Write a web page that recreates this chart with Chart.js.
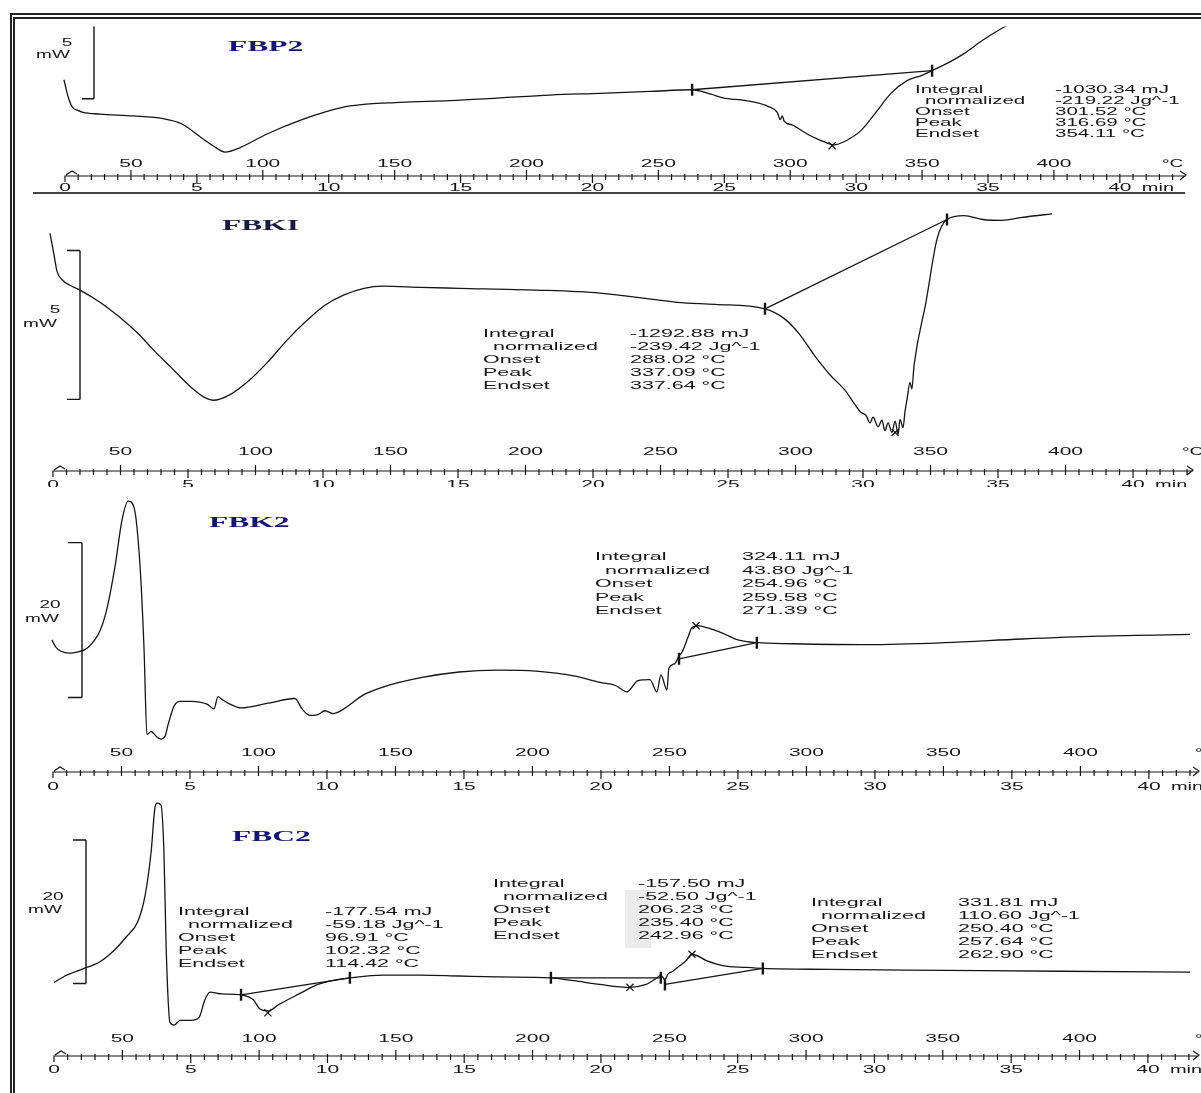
<!DOCTYPE html>
<html lang="en">
<head>
<meta charset="UTF-8">
<title>DSC thermograms</title>
<script src="https://cdn.jsdelivr.net/npm/chart.js"></script>
<style>
  html, body { margin: 0; padding: 0; background: #fff; }
  body { width: 1201px; height: 1093px; position: relative; overflow: hidden; }
  .frame {
    position: absolute; left: 10px; top: 13px; width: 1300px; height: 1200px;
    border-left: 5px double #222; border-top: 6px double #222;
  }
  .sep { position: absolute; left: 33px; top: 192px; width: 1152px; border-top: 2px solid #444; }
  .panel { position: absolute; left: 0; width: 1201px; }
  canvas { display: block; }
</style>
</head>
<body>
<div class="frame"></div>
<div class="sep"></div>
<div class="panel" style="top:18px"><canvas id="c1"></canvas></div>
<div class="panel" style="top:195px"><canvas id="c2"></canvas></div>
<div class="panel" style="top:487px"><canvas id="c3"></canvas></div>
<div class="panel" style="top:790px"><canvas id="c4"></canvas></div>
<script>
// axis labels
const celsiusTicks = [50, 100, 150, 200, 250, 300, 350, 400];
const minuteTicks = [0, 5, 10, 15, 20, 25, 30, 35, 40];
const resultNames = ['Integral', 'normalized', 'Onset', 'Peak', 'Endset'];
const sampleNames = ['FBP2', 'FBKI', 'FBK2', 'FBC2'];

// FBP2 : temperature (°C) / heat flow (mW, relative)
const fbp2T = [24.6, 26.1, 27.7, 29.9, 31.8, 38.3, 50.8, 62.2, 69.4, 76.2, 81.1, 85.7, 91.4, 101.6, 114.1, 124.4, 133.1, 152.0, 171.0, 190.0, 208.9, 227.9, 246.8, 262.8, 270.0, 274.5, 283.2, 292.0, 295.1, 296.2, 297.0, 297.7, 300.7, 306.4, 310.6, 315.1, 316.6, 320.8, 326.9, 332.5, 338.2, 344.3, 350.0, 353.8, 358.7, 365.9, 373.1, 380.3, 384.9];
const fbp2Q = [7.25, 6.13, 5.38, 5.13, 5.0, 4.88, 4.75, 4.56, 4.19, 3.31, 2.69, 2.25, 2.56, 3.5, 4.44, 5.06, 5.44, 5.69, 5.81, 6.0, 6.19, 6.31, 6.44, 6.56, 6.25, 6.0, 5.81, 5.38, 5.0, 4.5, 4.75, 4.38, 4.13, 3.5, 3.13, 2.81, 2.75, 3.0, 3.75, 5.0, 6.31, 7.19, 7.56, 7.88, 8.31, 9.06, 10.0, 10.81, 11.25];
const fbp2LimT = [262.8, 353.8];
const fbp2LimQ = [6.56, 7.88];
const fbp2PeakT = [315.9];
const fbp2PeakQ = [2.69];
const fbp2Results = ['-1030.34 mJ', '-219.22 Jg^-1', '301.52 °C', '316.69 °C', '354.11 °C'];

// FBKI
const fbk1T = [23.9, 25.4, 26.5, 28.7, 31.3, 35.0, 42.4, 49.4, 56.5, 62.0, 69.1, 76.1, 81.3, 84.3, 90.6, 97.6, 104.6, 111.7, 118.7, 125.7, 132.8, 140.2, 147.2, 161.3, 175.4, 203.9, 227.6, 256.1, 270.2, 288.7, 295.7, 301.3, 307.2, 312.8, 318.3, 321.9, 324.3, 326.1, 327.6, 328.7, 330.6, 332.0, 333.1, 334.3, 335.7, 336.9, 338.0, 338.7, 339.8, 340.6, 341.3, 342.4, 343.1, 343.9, 348.3, 352.4, 356.1, 362.4, 369.4, 376.5, 383.9, 395.0];
const fbk1Q = [8.23, 7.50, 6.96, 6.65, 6.49, 6.33, 5.92, 5.44, 4.87, 4.34, 3.70, 3.07, 2.72, 2.63, 2.82, 3.29, 3.92, 4.65, 5.28, 5.82, 6.17, 6.39, 6.46, 6.42, 6.39, 6.33, 6.23, 5.92, 5.85, 5.70, 5.38, 4.87, 4.11, 3.48, 2.97, 2.50, 2.22, 2.12, 1.87, 2.06, 1.74, 1.96, 1.61, 1.87, 1.55, 1.93, 1.49, 1.99, 1.71, 2.28, 2.66, 3.23, 3.01, 3.80, 5.92, 8.04, 8.70, 8.83, 8.70, 8.67, 8.77, 8.89];
const fbk1LimT = [288.7, 356.1];
const fbk1LimQ = [5.70, 8.70];
const fbk1PeakT = [336.9];
const fbk1PeakQ = [1.55];
const fbk1Results = ['-1292.88 mJ', '-239.42 Jg^-1', '288.02 °C', '337.09 °C', '337.64 °C'];

// FBK2
const fbk2T = [24.6, 26.1, 27.9, 31.2, 33.8, 37.8, 42.2, 44.7, 47.6, 50.2, 52.4, 54.6, 56.8, 58.2, 59.3, 60.8, 63.0, 64.4, 65.9, 67.0, 69.2, 71.4, 75.4, 81.2, 83.8, 85.2, 86.7, 89.6, 93.6, 103.5, 113.3, 115.9, 118.8, 121.7, 124.3, 127.2, 130.1, 138.5, 145.4, 159.3, 173.2, 187.4, 201.3, 215.1, 224.6, 230.1, 234.5, 238.5, 242.9, 245.4, 246.9, 249.1, 249.8, 252.0, 253.5, 254.6, 256.8, 258.2, 260.4, 263.7, 269.5, 275.0, 281.9, 294.7, 322.4, 350.5, 378.6, 406.4, 444.0];
const fbk2Q = [18.29, 17.32, 16.83, 16.59, 16.71, 17.32, 19.51, 22.32, 27.68, 33.78, 36.22, 35.37, 27.68, 17.44, 6.10, 6.46, 5.73, 5.49, 5.85, 7.32, 9.76, 10.37, 10.37, 10.00, 9.39, 10.98, 10.61, 10.00, 9.51, 10.12, 10.73, 9.39, 8.54, 8.66, 9.15, 8.78, 9.15, 11.22, 12.20, 13.41, 14.15, 14.39, 14.27, 13.66, 12.80, 12.44, 11.59, 13.05, 13.17, 11.59, 13.78, 11.83, 14.63, 15.24, 16.22, 16.71, 18.66, 19.88, 20.12, 19.88, 19.15, 18.29, 17.93, 17.80, 17.68, 17.93, 18.41, 18.78, 19.02];
const fbk2LimT = [253.5, 281.9];
const fbk2LimQ = [15.85, 17.93];
const fbk2PeakT = [259.7];
const fbk2PeakQ = [20.12];
const fbk2Results = ['324.11 mJ', '43.80 Jg^-1', '254.96 °C', '259.58 °C', '271.39 °C'];

// FBC2 (three integrated events)
const fbc2T = [25.0, 29.0, 36.0, 41.8, 47.3, 51.3, 55.7, 58.3, 60.5, 61.9, 62.7, 64.1, 65.2, 66.0, 67.4, 68.9, 71.1, 75.1, 78.0, 80.2, 82.0, 86.4, 93.4, 97.8, 100.3, 103.2, 107.3, 114.6, 121.5, 128.5, 133.2, 145.3, 159.2, 173.1, 187.3, 206.7, 215.1, 224.6, 235.6, 241.5, 245.5, 246.9, 248.4, 249.5, 251.3, 253.9, 256.1, 258.3, 263.8, 269.6, 278.0, 284.2, 308.7, 350.8, 392.8, 444.4];
const fbc2Q = [14.21, 15.13, 16.18, 17.11, 18.82, 20.53, 22.76, 26.32, 32.37, 38.55, 39.21, 38.95, 32.37, 19.21, 8.68, 8.29, 8.95, 8.95, 9.34, 11.84, 12.89, 12.63, 12.50, 11.84, 10.53, 10.26, 11.18, 12.63, 13.95, 14.61, 14.87, 15.26, 15.26, 15.13, 15.0, 14.87, 14.47, 13.95, 13.55, 13.95, 14.87, 15.26, 14.61, 15.39, 15.79, 16.58, 17.24, 18.16, 17.24, 16.58, 16.32, 16.18, 16.05, 15.92, 15.79, 15.66];
const fbc2LimT = [93.4, 133.2, 206.7, 246.9, 248.4, 284.2];
const fbc2LimQ = [12.50, 14.87, 14.87, 14.87, 13.95, 16.18];
const fbc2PeakT = [103.2, 235.6, 258.3];
const fbc2PeakQ = [10.0, 13.55, 18.16];
const fbc2ResultsA = ['-177.54 mJ', '-59.18 Jg^-1', '96.91 °C', '102.32 °C', '114.42 °C'];
const fbc2ResultsB = ['-157.50 mJ', '-52.50 Jg^-1', '206.23 °C', '235.40 °C', '242.96 °C'];
const fbc2ResultsC = ['331.81 mJ', '110.60 Jg^-1', '250.40 °C', '257.64 °C', '262.90 °C'];

function zip(ts, qs) { return ts.map((t, i) => ({ x: t, y: qs[i] })); }

// the scanned figure is stretched sideways, so text is widened
function wideText(ctx, s, x, y, font, sx, align) {
  ctx.save();
  ctx.font = font;
  ctx.translate(x, y);
  ctx.scale(sx, 1);
  ctx.textAlign = align || 'left';
  ctx.textBaseline = 'middle';
  ctx.fillText(s, 0, 0);
  ctx.restore();
}

const ink = '#151515';
const axisFont = '10px "Liberation Sans", Arial, sans-serif';

const thermoPlugin = {
  id: 'thermo',
  beforeDatasetsDraw(chart, args, o) {
    if (!o.shade) return;
    const ctx = chart.ctx;
    ctx.save();
    ctx.fillStyle = '#ebebeb';
    o.shade.forEach(r => ctx.fillRect(r[0], r[1], r[2], r[3]));
    ctx.restore();
  },
  afterDatasetsDraw(chart, args, o) {
    const ctx = chart.ctx, xs = chart.scales.x, ys = chart.scales.y;
    ctx.save();
    ctx.strokeStyle = ink;
    ctx.fillStyle = ink;
    ctx.lineWidth = 1.4;

    // mW scale bar
    const b = o.bar;
    const bt = ys.getPixelForValue(b.top), bb = ys.getPixelForValue(b.top - b.mw);
    ctx.beginPath();
    ctx.moveTo(b.x, bt); ctx.lineTo(b.x, bb);
    if (b.topSerif) { ctx.moveTo(b.x - b.serif, bt); ctx.lineTo(b.x, bt); }
    ctx.moveTo(b.x - b.serif, bb); ctx.lineTo(b.x, bb);
    ctx.stroke();
    wideText(ctx, b.label, b.lx, b.ly, axisFont, 1.9, 'center');
    wideText(ctx, 'mW', b.ux, b.uy, axisFont, 1.9, 'center');

    // temperature / time ruler
    const r = o.ruler, x0 = xs.getPixelForValue(25);
    ctx.lineWidth = 1.2;
    ctx.beginPath();
    ctx.moveTo(x0, r.y + 6); ctx.lineTo(x0, r.y); ctx.lineTo(r.end, r.y);
    ctx.moveTo(x0 + 1, r.y - 1); ctx.lineTo(x0 + 7, r.y - 5); ctx.lineTo(x0 + 12, r.y - 2);
    ctx.moveTo(r.end - 6, r.y - 5); ctx.lineTo(r.end, r.y - 1); ctx.lineTo(r.end - 6, r.y + 4);
    for (let t = 30; xs.getPixelForValue(t) < r.end - 4; t += 5) {
      const px = xs.getPixelForValue(t);
      let up = 2, dn = 4;
      if (t % 50 === 0) up = 6;
      if ((t - 25) % 50 === 0) dn = 7;
      ctx.moveTo(px, r.y - up); ctx.lineTo(px, r.y + dn);
    }
    ctx.stroke();
    celsiusTicks.forEach(c => wideText(ctx, String(c), xs.getPixelForValue(c), r.cy, axisFont, 2.1, 'center'));
    wideText(ctx, '°C', r.unitX, r.cy, axisFont, 1.9, 'left');
    minuteTicks.forEach(m => wideText(ctx, String(m), xs.getPixelForValue(25 + 10 * m), r.my, axisFont, 2.1, 'center'));
    wideText(ctx, 'min', xs.getPixelForValue(425) + 22, r.my, axisFont, 2.0, 'left');

    // sample name
    ctx.fillStyle = o.title.color;
    wideText(ctx, o.title.text, o.title.x, o.title.y, 'bold 15px "Liberation Serif", "Times New Roman", serif', 2.1, 'left');
    ctx.fillStyle = ink;

    // integration results
    o.blocks.forEach(bl => {
      const f = bl.size + 'px "Liberation Sans", Arial, sans-serif';
      resultNames.forEach((n, i) => {
        const y = bl.y + i * bl.dy;
        wideText(ctx, n, bl.nx + (i === 1 ? 10 : 0), y, f, bl.sx, 'left');
        wideText(ctx, bl.vals[i], bl.vx, y, f, bl.sx, 'left');
      });
    });
    ctx.restore();
  }
};

const panels = [
  {
    id: 'c1', height: 175, xMin: 15.52, xMax: 451.6, yMax: 10.94,
    curve: zip(fbp2T, fbp2Q), limits: zip(fbp2LimT, fbp2LimQ), peaks: zip(fbp2PeakT, fbp2PeakQ), pairs: [[0, 1]],
    title: { text: sampleNames[0], x: 228, y: 29, color: '#141478' },
    bar: { x: 94, top: 10.94, mw: 5, serif: 12, topSerif: false, label: '5', lx: 67, ly: 25, ux: 53, uy: 37 },
    ruler: { y: 158, cy: 146, my: 170, end: 1186, unitX: 1162 },
    blocks: [{ nx: 915, vx: 1055, y: 72, dy: 11, size: 10, sx: 2.05, vals: fbp2Results }]
  },
  {
    id: 'c2', height: 292, xMin: 20.19, xMax: 446.1, yMax: 9.24,
    curve: zip(fbk1T, fbk1Q), limits: zip(fbk1LimT, fbk1LimQ), peaks: zip(fbk1PeakT, fbk1PeakQ), pairs: [[0, 1]],
    title: { text: sampleNames[1], x: 222, y: 31, color: '#1a1a44' },
    bar: { x: 80, top: 7.66, mw: 5, serif: 13, topSerif: true, label: '5', lx: 55, ly: 115, ux: 40, uy: 129 },
    ruler: { y: 276, cy: 257, my: 290, end: 1193, unitX: 1182 },
    blocks: [{ nx: 483, vx: 630, y: 139, dy: 13, size: 11, sx: 1.95, vals: fbk1Results }]
  },
  {
    id: 'c3', height: 303, xMin: 20.26, xMax: 440.0, yMax: 36.95,
    curve: zip(fbk2T, fbk2Q), limits: zip(fbk2LimT, fbk2LimQ), peaks: zip(fbk2PeakT, fbk2PeakQ), pairs: [[0, 1]],
    title: { text: sampleNames[2], x: 209, y: 36, color: '#141478' },
    bar: { x: 82, top: 30.85, mw: 20, serif: 14, topSerif: true, label: '20', lx: 50, ly: 118, ux: 42, uy: 132 },
    ruler: { y: 285, cy: 266, my: 300, end: 1199, unitX: 1195 },
    blocks: [{ nx: 595, vx: 742, y: 70, dy: 13.5, size: 11, sx: 1.95, vals: fbk2Results }]
  },
  {
    id: 'c4', height: 303, xMin: 19.88, xMax: 440.4, yMax: 39.87,
    curve: zip(fbc2T, fbc2Q), limits: zip(fbc2LimT, fbc2LimQ), peaks: zip(fbc2PeakT, fbc2PeakQ), pairs: [[0, 1], [2, 3], [4, 5]],
    title: { text: sampleNames[3], x: 232, y: 47, color: '#141478' },
    bar: { x: 86, top: 34.08, mw: 20, serif: 13, topSerif: true, label: '20', lx: 53, ly: 107, ux: 45, uy: 120 },
    ruler: { y: 266, cy: 249, my: 280, end: 1199, unitX: 1195 },
    shade: [[625, 100, 26, 58]],
    blocks: [
      { nx: 178, vx: 325, y: 122, dy: 13, size: 11, sx: 1.95, vals: fbc2ResultsA },
      { nx: 493, vx: 638, y: 94, dy: 13, size: 11, sx: 1.95, vals: fbc2ResultsB },
      { nx: 811, vx: 958, y: 113, dy: 13, size: 11, sx: 1.95, vals: fbc2ResultsC }
    ]
  }
];

panels.forEach(p => {
  const canvas = document.getElementById(p.id);
  canvas.width = 1201;
  canvas.height = p.height;
  const line = { showLine: true, borderColor: ink, borderWidth: 1.3, pointRadius: 0, tension: 0 };
  // smooth the thermogram itself, keep baselines straight
  const datasets = [Object.assign({ data: p.curve }, line, { cubicInterpolationMode: 'monotone' })];
  p.pairs.forEach(pr => datasets.push(Object.assign({ data: [p.limits[pr[0]], p.limits[pr[1]]] }, line)));
  datasets.push({ data: p.limits, showLine: false, pointStyle: 'line', rotation: 90, pointRadius: 6, borderWidth: 2.4, borderColor: ink });
  datasets.push({ data: p.peaks, showLine: false, pointStyle: 'crossRot', pointRadius: 5, borderWidth: 1.2, borderColor: ink });

  new Chart(canvas, {
    type: 'scatter',
    data: { datasets: datasets },
    options: {
      responsive: false,
      animation: false,
      events: [],
      layout: { padding: { left: 40, right: 11, top: 0, bottom: 0 } },
      plugins: { legend: { display: false }, tooltip: { enabled: false }, thermo: p },
      scales: {
        x: { type: 'linear', display: false, min: p.xMin, max: p.xMax },
        y: { type: 'linear', display: false, min: 0, max: p.yMax }
      }
    },
    plugins: [thermoPlugin]
  });
});
</script>
</body>
</html>
